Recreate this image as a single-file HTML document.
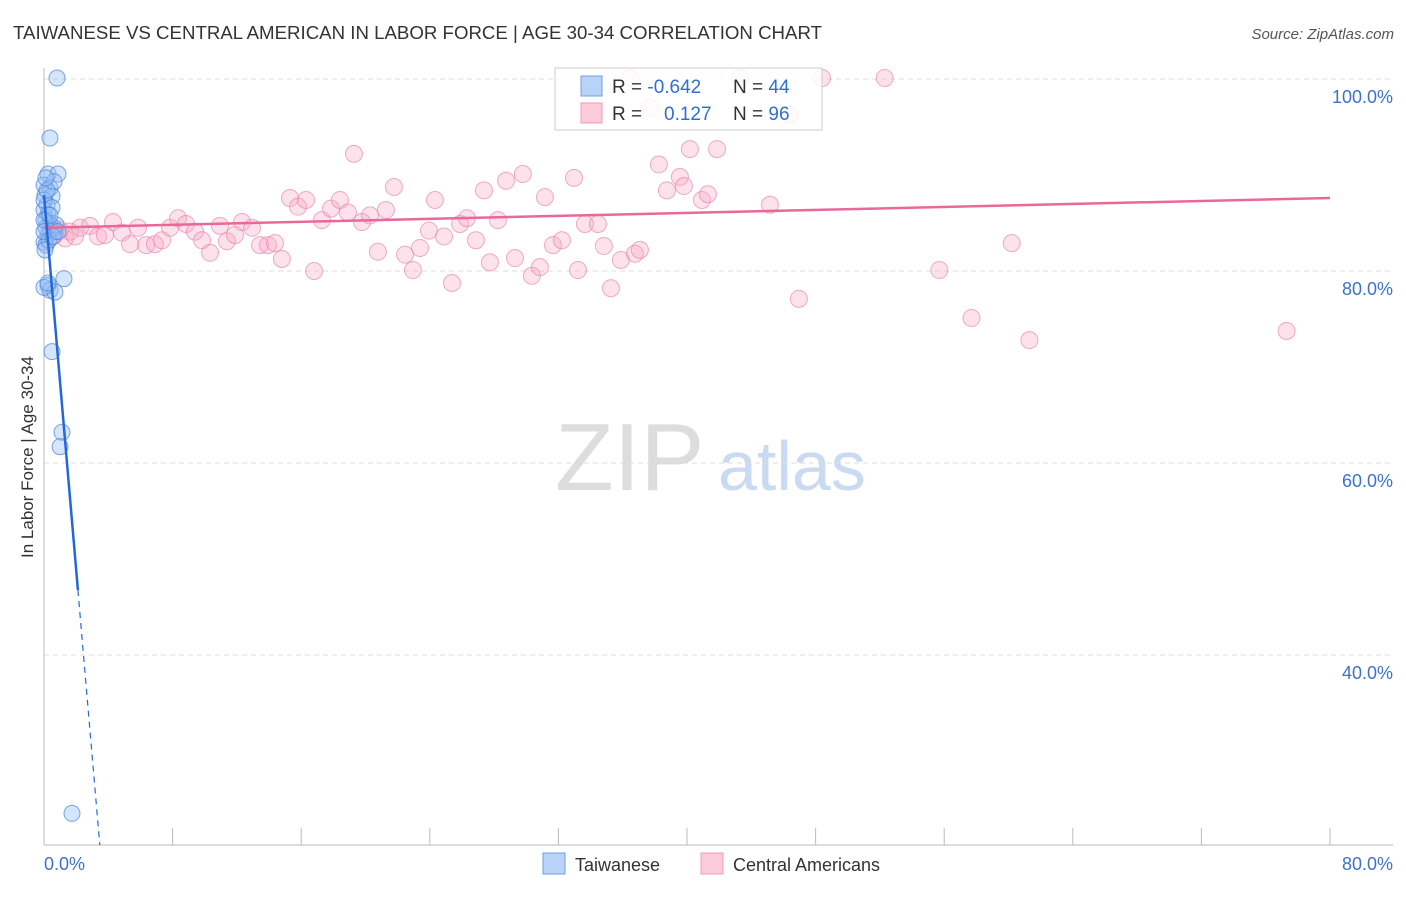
<!DOCTYPE html>
<html><head><meta charset="utf-8">
<style>
body{margin:0;background:#fff;font-family:"Liberation Sans",sans-serif;}
svg text{font-family:"Liberation Sans",sans-serif;}
</style></head>
<body>
<svg id="chart" width="1406" height="892" xmlns="http://www.w3.org/2000/svg">
<text x="13" y="39" font-size="18.5" fill="#333" textLength="809" lengthAdjust="spacingAndGlyphs">TAIWANESE VS CENTRAL AMERICAN IN LABOR FORCE | AGE 30-34 CORRELATION CHART</text>
<text x="1394" y="39" font-size="15" fill="#555" font-style="italic" text-anchor="end">Source: ZipAtlas.com</text>
<text transform="translate(33,457) rotate(-90)" font-size="17" fill="#333" text-anchor="middle">In Labor Force | Age 30-34</text>
<g>
<text x="555" y="490" font-size="96" fill="#ddd" font-family="Liberation Serif,serif">ZIP</text>
<text x="718" y="490" font-size="70" fill="#c9daf2">atlas</text>
</g>
<g id="grid"></g>
<g id="axes"></g>
<g id="pink"></g>
<g id="blue"></g>
<g id="lines"></g>
<g>
<rect x="555" y="68" width="267" height="62" fill="#fff" fill-opacity="0.85" stroke="#ccc"/>
<rect x="581" y="76" width="21" height="20" fill="#b8d3f7" stroke="#6f9fe0"/>
<rect x="581" y="103" width="21" height="20" fill="#fccadb" stroke="#ee9ab8"/>
<text x="612" y="93" font-size="19" fill="#333">R = <tspan fill="#2f6fd0">-0.642</tspan></text>
<text x="733" y="93" font-size="19" fill="#333">N = <tspan fill="#2f6fd0">44</tspan></text>
<text x="612" y="120" font-size="19" fill="#333">R = </text>
<text x="664" y="120" font-size="19" fill="#2f6fd0">0.127</text>
<text x="733" y="120" font-size="19" fill="#333">N = <tspan fill="#2f6fd0">96</tspan></text>
</g>
<g>
<rect x="543" y="853" width="22" height="21" fill="#b8d3f7" stroke="#6f9fe0"/>
<text x="575" y="871" font-size="18" fill="#333">Taiwanese</text>
<rect x="701" y="853" width="22" height="21" fill="#fccadb" stroke="#ee9ab8"/>
<text x="733" y="871" font-size="18" fill="#333">Central Americans</text>
</g>
</svg>
<script>
const yTicks=[100,80,60,40];
const yTickLabels=["100.0%","80.0%","60.0%","40.0%"];
const xTickVals=[8,16,24,32,40,48,56,64,72,80];
const xEndLabels=["0.0%","80.0%"];
const blueX=[0.81,0.37,0.25,0.87,0,0.37,0.62,0.06,0.5,0.19,0,0.25,0.12,0.37,0.5,0.25,0.68,0,0.12,1.24,0.25,0.37,0.68,0.5,1.12,1.0,1.74,0.37,0.62,0.12,0,0.19,0,0.31,0,0.75,0.12,0.5,0,0.25,0.56,0.06,0.87,0.37];
const blueY=[100.1,93.85,90.1,90.1,88.95,88.65,89.3,87.9,87.8,86.9,86.35,85.9,85.3,84.8,84.3,83.75,84.1,83.0,82.7,79.2,78.5,78.0,77.8,71.6,63.2,61.7,23.5,84.3,84.5,84.5,87.4,88.4,85.3,83.2,84.1,84.8,89.7,86.6,78.3,78.75,83.6,82.2,84.1,85.8];
const pinkX=[0.25,0.68,1.0,1.31,1.62,1.93,2.24,2.86,3.36,3.79,4.29,4.85,5.35,5.85,6.35,6.9,7.34,7.84,8.34,8.83,9.39,9.83,10.33,10.95,11.38,11.88,12.32,12.94,13.44,13.93,14.37,14.8,15.3,15.8,16.3,16.8,17.29,17.85,18.41,18.91,19.28,19.78,20.28,20.77,21.27,21.77,22.46,22.95,23.39,23.95,24.32,24.88,25.38,25.88,26.31,26.87,27.37,27.74,28.24,28.74,29.3,29.79,30.35,30.85,31.16,31.66,32.22,32.97,33.22,33.65,34.46,34.83,35.27,35.89,36.45,36.76,37.07,37.7,38.25,38.75,39.56,39.81,40.18,40.93,41.3,41.87,43.3,45.16,46.4,46.96,48.4,52.3,55.7,57.7,60.2,61.3,77.3];
const pinkY=[83.2,83.75,84.3,83.4,84.1,83.6,84.5,84.7,83.6,83.75,85.1,84.0,82.8,84.5,82.7,82.8,83.2,84.5,85.5,84.9,84.1,83.2,81.9,84.7,83.1,83.75,85.1,84.5,82.7,82.7,82.9,81.25,87.6,86.7,87.4,80.0,85.3,86.5,87.4,86.1,92.2,85.1,85.8,82.0,86.35,88.75,81.7,80.1,82.4,84.2,87.4,83.6,78.75,84.9,85.5,83.2,88.4,80.9,85.3,89.4,81.35,90.1,79.5,80.4,87.7,82.7,83.2,89.7,80.1,84.9,84.9,82.6,78.2,81.15,100.1,81.8,82.2,97.0,91.1,88.4,89.8,88.85,92.7,87.4,88.0,92.7,100.1,86.9,96.25,77.1,100.1,100.1,80.1,75.1,82.9,72.8,73.75];
const blueFit=[87.9,-19.5];   // intercept, slope
const pinkFit=[84.5,0.0388];
const NS="http://www.w3.org/2000/svg";
const X=v=>44+v*(1286/80);
const Y=v=>79+(100-v)*9.6;
function mk(t,a,p){const e=document.createElementNS(NS,t);for(const k in a)e.setAttribute(k,a[k]);document.getElementById(p).appendChild(e);return e;}
yTicks.forEach((t,i)=>{
 const l=mk('line',{x1:44,x2:1393,y1:Y(t),y2:Y(t),stroke:'#ddd','stroke-dasharray':'5,4'},'grid');
 
 
 const tx=mk('text',{x:1393,y:Y(t)+24,'font-size':18,fill:'#3b73cc','text-anchor':'end'},'axes');
 tx.textContent=yTickLabels[i];
 
 
});
const ax=mk('line',{x1:44,x2:1393,y1:845,y2:845,stroke:'#bbb'},'axes');


const ay=mk('line',{x1:44,x2:44,y1:68,y2:845,stroke:'#bbb'},'axes');


xTickVals.forEach(v=>{
 const t=mk('line',{x1:X(v),x2:X(v),y1:828,y2:845,stroke:'#bbb'},'axes');
 
 
});
[[0,'start',X(0)],[1,'end',1393]].forEach(([i,a,x])=>{
 const t=mk('text',{x:x,y:870,'font-size':18,fill:'#3b73cc','text-anchor':a},'axes');
 t.textContent=xEndLabels[i];
 
 
});
pinkX.forEach((v,i)=>{
 const c=mk('circle',{cx:X(v),cy:Y(pinkY[i]),r:8.5,fill:'rgba(248,170,198,0.35)',stroke:'rgba(232,130,165,0.65)','stroke-width':1},'pink');
 
 
});
blueX.forEach((v,i)=>{
 const c=mk('circle',{cx:X(v),cy:Y(blueY[i]),r:8,fill:'rgba(150,190,245,0.4)',stroke:'rgba(70,130,220,0.7)','stroke-width':1},'blue');
 
 
});
const pl=mk('line',{x1:X(0),y1:Y(pinkFit[0]),x2:X(80),y2:Y(pinkFit[0]+pinkFit[1]*80),stroke:'#e8689a','stroke-width':2.5},'lines');


const xs=2.11, xe=(20.2-blueFit[0])/blueFit[1];
const bl=mk('line',{x1:X(0),y1:Y(blueFit[0]),x2:X(xs),y2:Y(blueFit[0]+blueFit[1]*xs),stroke:'#2368d8','stroke-width':2.5},'lines');


const bd=mk('line',{x1:X(xs),y1:Y(blueFit[0]+blueFit[1]*xs),x2:X(xe),y2:Y(20.2),stroke:'#2368d8','stroke-width':1.2,'stroke-dasharray':'6,5'},'lines');


</script>
</body></html>
